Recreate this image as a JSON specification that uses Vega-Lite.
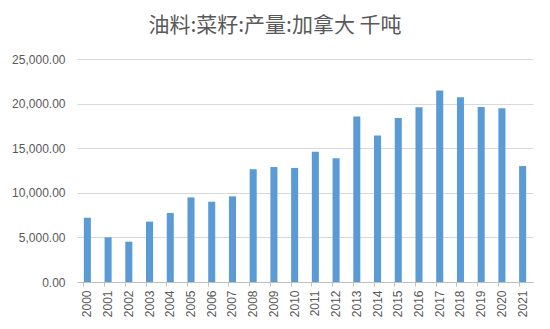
{
  "$schema": "https://vega.github.io/schema/vega-lite/v6.json",
  "autosize": {"type": "none"},
  "padding": {"left": 77, "top": 59, "right": 17, "bottom": 47},
  "width": 456,
  "height": 223,
  "background": "white",
  "title": {
    "text": "油料:菜籽:产量:加拿大 千吨",
    "font": "Noto Sans CJK SC",
    "fontSize": 21,
    "fontWeight": "normal",
    "color": "#595959",
    "anchor": "middle",
    "dx": -30,
    "offset": 17
  },
  "data": {
    "values": [
      {"year": "2000", "value": 7205},
      {"year": "2001", "value": 5017},
      {"year": "2002", "value": 4520},
      {"year": "2003", "value": 6771},
      {"year": "2004", "value": 7728},
      {"year": "2005", "value": 9483},
      {"year": "2006", "value": 9000},
      {"year": "2007", "value": 9601},
      {"year": "2008", "value": 12643},
      {"year": "2009", "value": 12889},
      {"year": "2010", "value": 12789},
      {"year": "2011", "value": 14608},
      {"year": "2012", "value": 13869},
      {"year": "2013", "value": 18551},
      {"year": "2014", "value": 16410},
      {"year": "2015", "value": 18377},
      {"year": "2016", "value": 19599},
      {"year": "2017", "value": 21458},
      {"year": "2018", "value": 20724},
      {"year": "2019", "value": 19607},
      {"year": "2020", "value": 19485},
      {"year": "2021", "value": 13000}
    ]
  },
  "mark": {"type": "bar", "color": "#5B9BD5"},
  "encoding": {
    "x": {
      "field": "year",
      "type": "ordinal",
      "scale": {"paddingInner": 0.66, "paddingOuter": 0.33},
      "axis": {
        "title": null,
        "labelAngle": -90,
        "labelFont": "Liberation Sans",
        "labelFontSize": 12,
        "labelColor": "#595959",
        "labelPadding": 4,
        "domainColor": "#BFBFBF",
        "tickColor": "#BFBFBF",
        "tickSize": 4,
        "bandPosition": 0
      }
    },
    "y": {
      "field": "value",
      "type": "quantitative",
      "scale": {"domain": [0, 25000]},
      "axis": {
        "title": null,
        "values": [0, 5000, 10000, 15000, 20000, 25000],
        "format": ",.2f",
        "labelFont": "Liberation Sans",
        "labelFontSize": 12,
        "labelColor": "#595959",
        "labelPadding": 12,
        "domain": false,
        "ticks": false,
        "gridColor": "#D9D9D9",
        "gridWidth": 1
      }
    }
  },
  "config": {"view": {"stroke": null}}
}
